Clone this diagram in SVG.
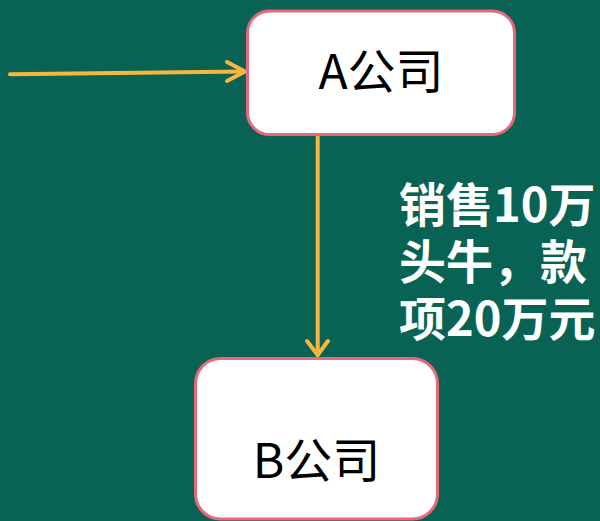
<svg xmlns="http://www.w3.org/2000/svg" width="600" height="521" viewBox="0 0 600 521">
<style>
.box{fill:#ffffff;stroke:#e9677a;stroke-width:3}
.lbl{font-family:"Noto Sans CJK SC","Liberation Sans",sans-serif;font-size:48px;fill:#000000;text-anchor:middle}
.note{font-family:"Noto Sans CJK SC","Liberation Sans",sans-serif;font-size:47px;font-weight:bold;fill:#ffffff}
.conn{fill:none;stroke:#f9b542;stroke-width:4;stroke-linecap:round;stroke-linejoin:round}
</style>
<rect width="600" height="521" fill="#086354"/>
<g id="connectors">
<path class="conn" d="M10,74.3 L245,71.5"/>
<path class="conn" d="M227,62 L245,71.5 L227,81"/>
<path class="conn" d="M317.7,137 L317.7,355"/>
<path class="conn" d="M307,341 L317.7,355 L328,341"/>
</g>
<g id="nodeA">
<rect class="box" x="247.5" y="11" width="267" height="123.5" rx="22"/>
<text class="lbl" x="381" y="89">A公司</text>
</g>
<g id="nodeB">
<rect class="box" x="195.5" y="358.5" width="242" height="160.5" rx="25"/>
<text class="lbl" x="316.5" y="478">B公司</text>
</g>
<g id="note">
<text class="note"><tspan x="399" y="222">销售10万</tspan><tspan x="399" y="279">头牛，款</tspan><tspan x="399" y="336">项20万元</tspan></text>
</g>
</svg>
